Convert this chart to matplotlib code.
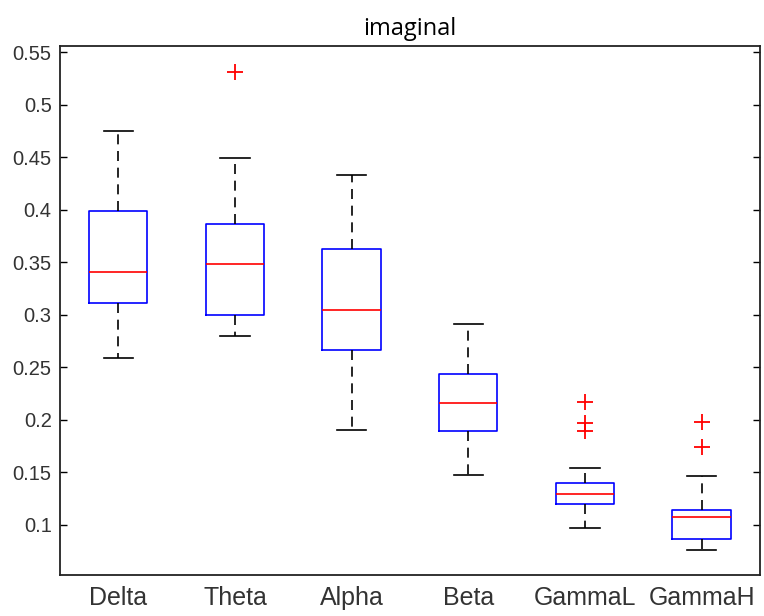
import matplotlib
matplotlib.use("Agg")
import matplotlib.pyplot as plt

bands = ["Delta", "Theta", "Alpha", "Beta", "GammaL", "GammaH"]
whisker_low = [0.259, 0.280, 0.190, 0.147, 0.097, 0.0755]
q1 = [0.311, 0.300, 0.2665, 0.189, 0.120, 0.086]
median = [0.341, 0.348, 0.304, 0.216, 0.129, 0.107]
q3 = [0.399, 0.386, 0.3625, 0.2435, 0.140, 0.114]
whisker_high = [0.475, 0.449, 0.433, 0.291, 0.154, 0.1465]
outliers = [[], [0.531], [], [], [0.217, 0.1965, 0.1895], [0.198, 0.1735]]

stats = []
for i, name in enumerate(bands):
    stats.append({
        "label": name,
        "whislo": whisker_low[i],
        "q1": q1[i],
        "med": median[i],
        "q3": q3[i],
        "whishi": whisker_high[i],
        "fliers": outliers[i],
    })

fig = plt.figure(figsize=(7.64, 6.16), dpi=100)
ax = fig.add_axes([0.0785, 0.0666, 0.9162, 0.8588])

ax.bxp(
    stats,
    widths=0.5,
    showfliers=True,
    boxprops=dict(color="#0000ff", linewidth=1.2),
    medianprops=dict(color="#ff0000", linewidth=1.2),
    whiskerprops=dict(color="black", linestyle=(0, (6, 4)), linewidth=1.2),
    capprops=dict(color="black", linewidth=1.2),
    capwidths=0.25,
    flierprops=dict(marker="+", markeredgecolor="#ff0000", markersize=11, markeredgewidth=1.3),
)

ax.set_xlim(0.5, 6.5)
ax.set_ylim(0.052, 0.556)
ax.set_yticks([0.1, 0.15, 0.2, 0.25, 0.3, 0.35, 0.4, 0.45, 0.5, 0.55])
ax.set_yticklabels(["0.1", "0.15", "0.2", "0.25", "0.3", "0.35", "0.4", "0.45", "0.5", "0.55"],
                   fontsize=14.5, family="Liberation Sans", color="#333333")
ax.set_xticks(range(1, 7))
ax.set_xticklabels(bands, fontsize=18, family="Liberation Sans", color="#333333")
ax.tick_params(axis="y", direction="in", length=5, right=True, width=1.0, pad=6)
ax.tick_params(axis="x", length=0, pad=8)
for s in ax.spines.values():
    s.set_linewidth(1.3)
    s.set_color("#222222")

ax.set_title("imaginal", fontsize=17, family="Open Sans", pad=8)

fig.savefig("out.png", dpi=100)
